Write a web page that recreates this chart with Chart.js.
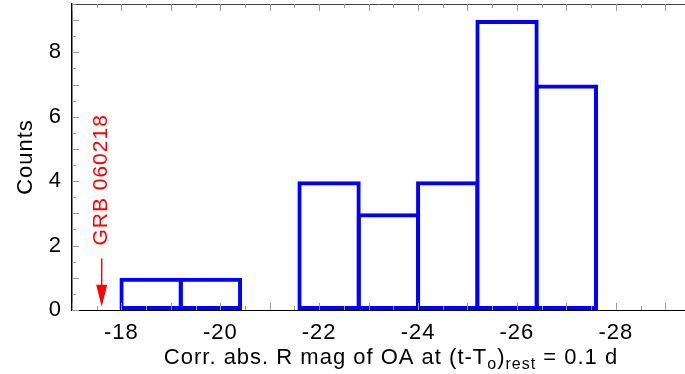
<!DOCTYPE html>
<html>
<head>
<meta charset="utf-8">
<script src="https://cdn.jsdelivr.net/npm/chart.js@4.4.0/dist/chart.umd.min.js"></script>
<style>
  html, body { margin: 0; padding: 0; background: #fff; }
</style>
</head>
<body>
<canvas id="chart" width="685" height="374"></canvas>
<script>
// histogram of corrected abs. R mag, bins 1.2 mag wide
const binCenters = [-18.6, -19.8, -21.0, -22.2, -23.4, -24.6, -25.8, -27.0];
const counts = [1, 1, 0, 4, 3, 4, 9, 7];
const xTicks = [-18, -20, -22, -24, -26, -28];
const yTicks = [0, 2, 4, 6, 8];
const grbLabel = 'GRB 060218';
const grbMag = -17.6;

const FONT = '"Liberation Sans", Arial, sans-serif';

// x title pieces, sub = subscript
const xTitle = [
  { t: 'Corr. abs. R mag of OA at (t-T' },
  { t: 'o', sub: true },
  { t: ')' },
  { t: 'rest', sub: true },
  { t: ' = 0.1 d' }
];

const decor = {
  id: 'decor',
  beforeLayout(chart) {
    // the original lettering is a bit wider spaced
    chart.ctx.letterSpacing = '1px';
  },
  afterDraw(chart) {
    const ctx = chart.ctx;
    const xs = chart.scales.x, ys = chart.scales.y;
    const ca = chart.chartArea;
    ctx.save();

    // top frame line
    ctx.strokeStyle = '#444';
    ctx.lineWidth = 1;
    ctx.beginPath();
    ctx.moveTo(ca.left, ca.top + 0.5);
    ctx.lineTo(ca.right, ca.top + 0.5);
    ctx.stroke();

    // inner tick marks
    ctx.strokeStyle = '#9a9a9a';
    ctx.beginPath();
    for (let i = 0; ; i++) {
      const v = xs.max - 0.5 * i;
      if (v < xs.min) break;
      const len = i % 2 === 0 ? 7 : 4;
      const px = Math.round(xs.getPixelForValue(v)) + 0.5;
      ctx.moveTo(px, ca.bottom);
      ctx.lineTo(px, ca.bottom - len);
      ctx.moveTo(px, ca.top);
      ctx.lineTo(px, ca.top + len);
    }
    for (let i = 0; ; i++) {
      const v = ys.min + 0.5 * i;
      if (v > ys.max) break;
      const len = i % 2 === 0 ? 7 : 4;
      const py = Math.round(ys.getPixelForValue(v)) + 0.5;
      ctx.moveTo(ca.left, py);
      ctx.lineTo(ca.left + len, py);
    }
    ctx.stroke();

    // GRB 060218 marker
    const gx = xs.getPixelForValue(grbMag);
    ctx.fillStyle = '#ff0000';
    ctx.strokeStyle = '#ff0000';
    ctx.lineWidth = 1.5;
    const y0 = ys.getPixelForValue(1.6);
    const tip = ys.getPixelForValue(0.1);
    ctx.beginPath();
    ctx.moveTo(gx, y0);
    ctx.lineTo(gx, tip - 18);
    ctx.stroke();
    ctx.beginPath();
    ctx.moveTo(gx, tip);
    ctx.lineTo(gx - 5.5, tip - 22);
    ctx.lineTo(gx + 5.5, tip - 22);
    ctx.closePath();
    ctx.fill();

    ctx.save();
    ctx.translate(gx, ys.getPixelForValue(2.0));
    ctx.rotate(-Math.PI / 2);
    ctx.font = '21px ' + FONT;
    ctx.textAlign = 'left';
    ctx.textBaseline = 'middle';
    ctx.fillText(grbLabel, 0, 0);
    ctx.restore();

    // x axis title with subscripts
    ctx.fillStyle = '#000';
    ctx.textBaseline = 'alphabetic';
    ctx.textAlign = 'left';
    const big = '22px ' + FONT, small = '16px ' + FONT;
    let w = 0;
    xTitle.forEach(p => { ctx.font = p.sub ? small : big; w += ctx.measureText(p.t).width; });
    let x = 391 - w / 2;
    const base = 364;
    xTitle.forEach(p => {
      ctx.font = p.sub ? small : big;
      ctx.fillText(p.t, x, p.sub ? base + 5 : base);
      x += ctx.measureText(p.t).width;
    });
    ctx.restore();
  }
};

new Chart(document.getElementById('chart'), {
  type: 'bar',
  data: {
    datasets: [{
      label: 'Counts',
      data: binCenters.map((c, i) => ({ x: c, y: counts[i] })),
      borderColor: '#0000ff',
      backgroundColor: 'rgba(255,255,255,0)',
      borderWidth: 4,
      borderSkipped: false,
      categoryPercentage: 1,
      barPercentage: 1.067
    }]
  },
  options: {
    responsive: false,
    animation: false,
    layout: { padding: { top: 4, right: 0, left: 0, bottom: 0 } },
    plugins: { legend: { display: false }, tooltip: { enabled: false } },
    scales: {
      x: {
        type: 'linear',
        reverse: true,
        offset: false,
        min: -29.4,
        max: -17,
        afterBuildTicks: s => { s.ticks = xTicks.map(v => ({ value: v })); },
        afterFit: s => { s.height = 64; s.paddingLeft = 0; s.paddingRight = 0; },
        grid: { display: false, drawTicks: false },
        border: { display: true, color: '#000', width: 1 },
        ticks: {
          color: '#000',
          padding: 10,
          maxRotation: 0,
          font: { family: FONT, size: 22 }
        }
      },
      y: {
        min: 0,
        max: 9.5,
        afterBuildTicks: s => { s.ticks = yTicks.map(v => ({ value: v })); },
        afterFit: s => { s.width = 72; s.paddingTop = 0; s.paddingBottom = 0; },
        grid: { display: false, drawTicks: false },
        border: { display: true, color: '#000', width: 1.5 },
        title: {
          display: true,
          text: 'Counts',
          color: '#000',
          padding: { top: 13, bottom: 0 },
          font: { family: FONT, size: 22 }
        },
        ticks: {
          color: '#000',
          padding: 10,
          font: { family: FONT, size: 22 }
        }
      }
    }
  },
  plugins: [decor]
});
</script>
</body>
</html>
